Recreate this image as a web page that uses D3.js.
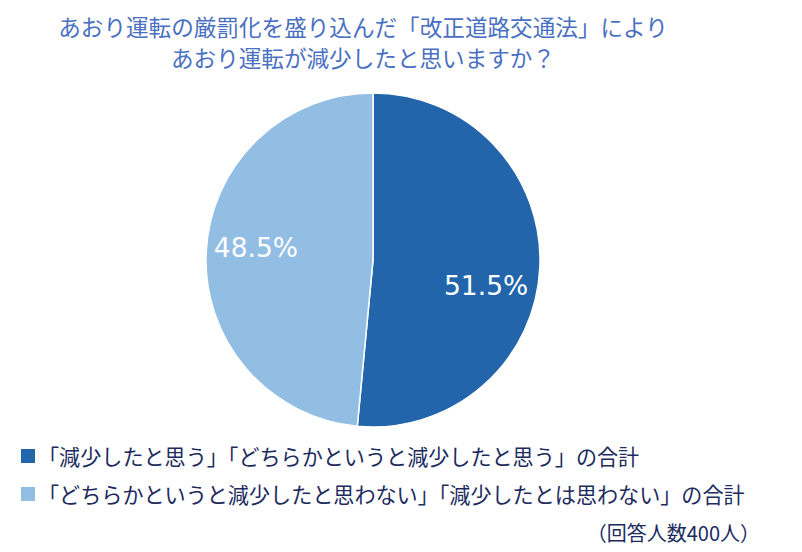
<!DOCTYPE html>
<html><head><meta charset="utf-8">
<script src="https://cdn.jsdelivr.net/npm/d3@7"></script>
<style>
html,body{margin:0;padding:0;background:#fff;}
svg{display:block;}
</style></head>
<body>
<svg id="chart" width="802" height="552"></svg>
<script>
const titleLines = ["あおり運転の厳罰化を盛り込んだ「改正道路交通法」により", "あおり運転が減少したと思いますか？"];
const categories = ["「減少したと思う」「どちらかというと減少したと思う」の合計", "「どちらかというと減少したと思わない」「減少したとは思わない」の合計"];
const values = [51.5, 48.5];
const labels = ["51.5%", "48.5%"];
const colors = ["#2265ab", "#93bee4"];
const note = "（回答人数400人）";

const svg = d3.select("#chart");
const jp = "'Noto Sans CJK JP','Noto Sans',sans-serif";

svg.append("g").selectAll("text").data(titleLines).join("text")
  .attr("x", 363).attr("y", (d,i)=>26 + i*31)
  .attr("text-anchor","middle").attr("dominant-baseline","central")
  .attr("font-family", jp).attr("font-size", 22.6).attr("fill", "#4a70c1")
  .text(d=>d);

const cx = 373, cy = 260, r = 167;
const pie = d3.pie().sort(null).value(d=>d);
const arcs = pie(values);
const arc = d3.arc().innerRadius(0).outerRadius(r);
const labelArc = d3.arc().innerRadius(r*0.69).outerRadius(r*0.69);
const g = svg.append("g").attr("transform", `translate(${cx},${cy})`);
g.selectAll("path").data(arcs).join("path")
  .attr("d", arc).attr("fill", (d,i)=>colors[i])
  .attr("stroke", "#fff").attr("stroke-width", 1.5);

const nudge = [20, -7];
g.selectAll("text").data(arcs).join("text")
  .attr("transform", (d,i)=>{ const c = labelArc.centroid(d); return `translate(${c[0]-2},${c[1]+nudge[i]})`; })
  .attr("text-anchor","middle").attr("dominant-baseline","central")
  .attr("font-family","'DejaVu Sans',Verdana,sans-serif").attr("font-size", 26.5)
  .attr("fill","#fff").text((d,i)=>labels[i]);

const lg = svg.append("g");
const items = lg.selectAll("g").data(categories).join("g")
  .attr("transform", (d,i)=>`translate(21,${456 + i*38})`);
items.append("rect").attr("x",0).attr("y",-7).attr("width",14).attr("height",14)
  .attr("fill",(d,i)=>colors[i]);
items.append("text").attr("x", 17).attr("y", 0).attr("dominant-baseline","central")
  .attr("font-family", jp).attr("font-size", 21.1).attr("fill", "#1d2b5e")
  .text(d=>d);

svg.append("text").attr("x", 760).attr("y", 532).attr("text-anchor","end")
  .attr("dominant-baseline","central")
  .attr("font-family", jp).attr("font-size", 20).attr("fill", "#1d2b5e")
  .text(note);
</script>
</body></html>
